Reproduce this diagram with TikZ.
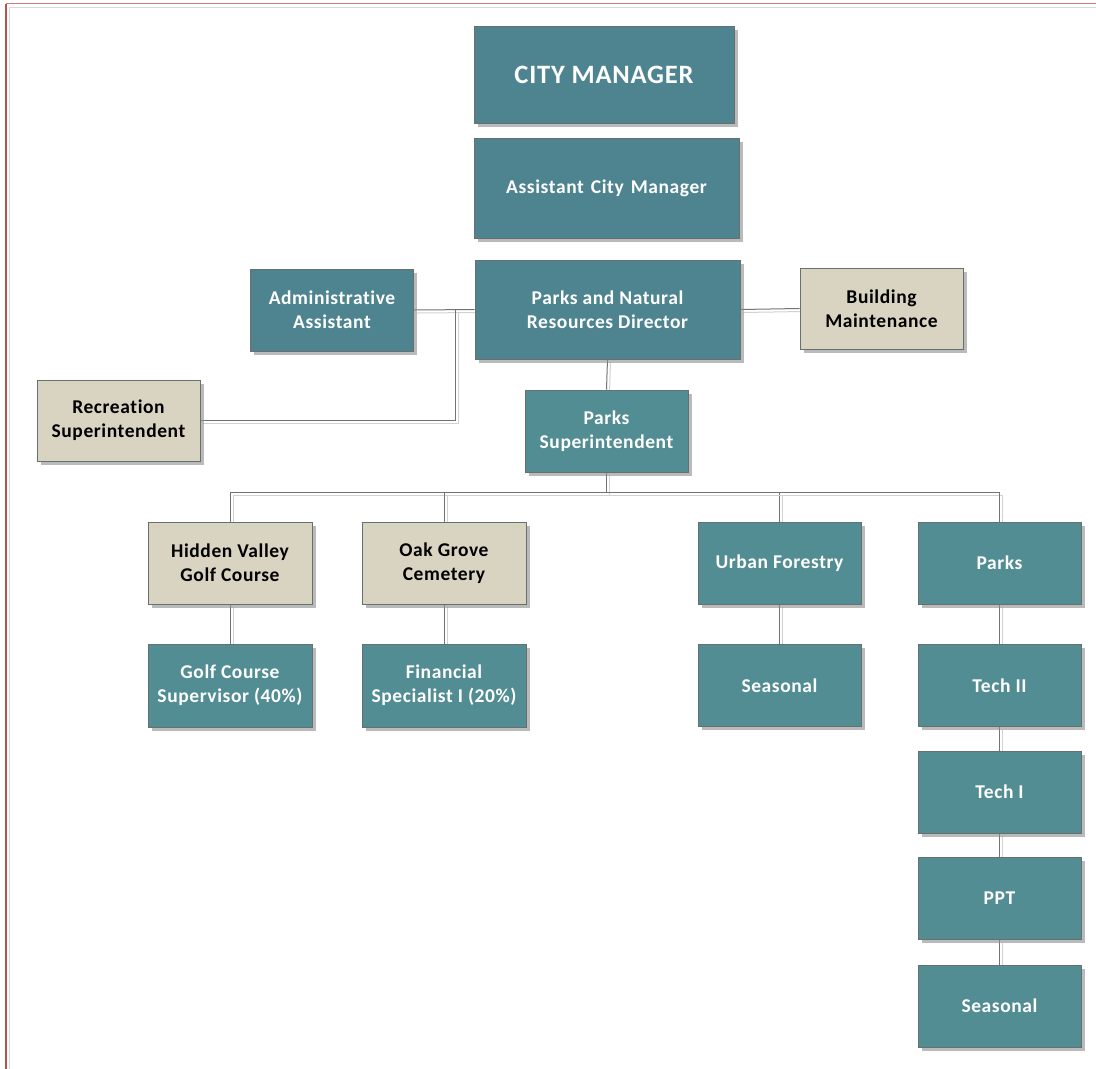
\documentclass[tikz,border=0pt]{standalone}
\usepackage{fontspec}
\setmainfont{Carlito}[LetterSpace=3, Ligatures=NoCommon]
\usetikzlibrary{shadows}
\definecolor{tealA}{HTML}{4D8490}
\definecolor{tealB}{HTML}{528D93}
\definecolor{beige}{HTML}{D9D4C1}
\definecolor{boxline}{HTML}{66706F}
\definecolor{frameRed}{HTML}{C0504D}
\pgfdeclarelayer{bg}
\pgfsetlayers{bg,main}
\tikzset{
  box/.style={rectangle, draw=boxline, line width=0.8pt, align=center, inner sep=0pt,
    minimum width=163pt, minimum height=82pt,
    font=\fontsize{19.5}{24}\selectfont\bfseries,
    drop shadow={shadow xshift=3.5pt, shadow yshift=-3.5pt, fill=black!45, opacity=0.6}},
  teal/.style={box, fill=tealB, text=white},
  tealtop/.style={box, fill=tealA, text=white},
  sand/.style={box, fill=beige, text=black},
  link/.style={draw=black!55, line width=1pt},
  linkshade/.style={draw=black!18, line width=1pt, transform canvas={xshift=3pt, yshift=-3pt}}
}
\newcommand\orglink[1]{\draw[linkshade] #1; \draw[link] #1;}
\begin{document}
\begin{tikzpicture}[x=1pt, y=-1pt]
  \useasboundingbox (0,0) rectangle (1096,1069);
  % 1. page frame
  \draw[frameRed!75, line width=1.2pt] (6,3.5) -- (1096,3.5);
  \draw[frameRed, line width=1.6pt] (6,1069) -- (6,3.5);
  \draw[black!15, line width=1pt] (9.5,1069) -- (9.5,7) -- (1096,7);

  % 2. top of the chart
  \node[tealtop, minimum width=260pt, minimum height=97pt, font=\fontsize{26.5}{30}\selectfont\bfseries] (cm) at (604,74.5) {CITY MANAGER};
  \node[tealtop, minimum width=265pt, minimum height=100pt] (acm) at (606.5,188) {\spaceskip=7pt\relax Assistant City Manager};
  \node[tealtop, minimum width=265pt, minimum height=99pt] (dir) at (607.5,309.5) {Parks and Natural\\Resources Director};
  \node[tealtop] (admin) at (332,310) {Administrative\\Assistant};
  \node[sand, minimum height=81pt] (bldg) at (881.5,308.5) {Building\\Maintenance};
  \node[sand, minimum height=81pt] (rec) at (118.5,420.5) {Recreation\\Superintendent};
  \node[teal] (psup) at (606.5,431) {Parks\\Superintendent};

  % 3. divisions
  \node[sand, minimum width=164pt] (hv) at (230,563) {Hidden Valley\\Golf Course};
  \node[sand, minimum width=164pt] (oak) at (444,563) {Oak Grove\\Cemetery};
  \node[teal] (uf) at (779.5,563) {Urban Forestry};
  \node[teal] (parks) at (999.5,563) {Parks};

  % 4. staff
  \node[teal, minimum width=164pt, minimum height=83pt] (golf) at (230,685.5) {Golf Course\\Supervisor (40\%)};
  \node[teal, minimum width=164pt, minimum height=83pt] (fin) at (444,685.5) {Financial\\Specialist I (20\%)};
  \node[teal] (seasA) at (779.5,685.5) {Seasonal};
  \node[teal] (tech2) at (999.5,685.5) {Tech II};
  \node[teal] (tech1) at (999.5,792) {Tech I};
  \node[teal] (ppt) at (999.5,898.5) {PPT};
  \node[teal] (seasB) at (999.5,1006) {Seasonal};

  % 5. connectors (behind the boxes)
  \coordinate (jrec) at (455,310);
  \begin{pgfonlayer}{bg}
    \orglink{(dir.west) -- (admin.east)}
    \orglink{(jrec) |- (rec.east)}
    \orglink{(dir.east) -- (bldg.west)}
    \orglink{(dir.south) -- (psup.north)}
    \orglink{(psup.south) -- ++(0,20) coordinate (bus) -| (hv.north)}
    \orglink{(bus) -| (oak.north)}
    \orglink{(bus) -| (uf.north)}
    \orglink{(bus) -| (parks.north)}
    \orglink{(hv.south) -- (golf.north)}
    \orglink{(oak.south) -- (fin.north)}
    \orglink{(uf.south) -- (seasA.north)}
    \orglink{(parks.south) -- (tech2.north)}
    \orglink{(tech2.south) -- (tech1.north)}
    \orglink{(tech1.south) -- (ppt.north)}
    \orglink{(ppt.south) -- (seasB.north)}
  \end{pgfonlayer}
\end{tikzpicture}
\end{document}
